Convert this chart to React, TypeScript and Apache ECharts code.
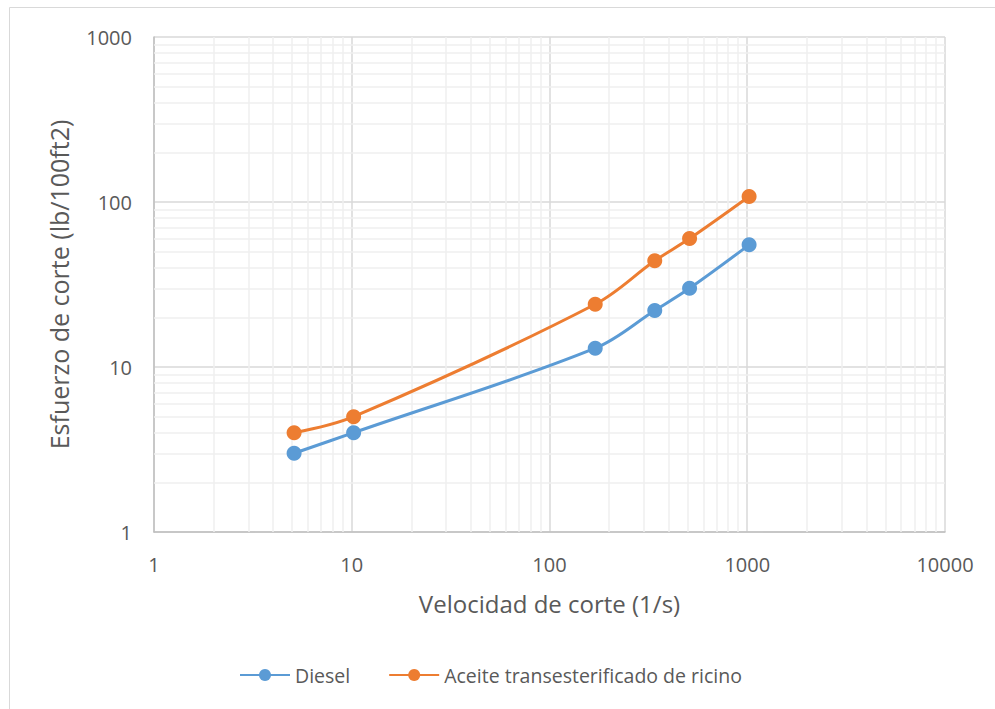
import React, { useEffect, useRef } from "react";
import * as echarts from "echarts";

const shearRate = [5.11, 10.22, 170.3, 340.6, 510.9, 1021.8];
const diesel = [3, 4, 13, 22, 30, 55];
const aceite = [4, 5, 24, 44, 60, 108];
const seriesNames = ["Diesel", "Aceite transesterificado de ricino"];
const xDecades = [1, 10, 100, 1000];
const yDecades = [1, 10, 100];
const minorSteps = [2, 3, 4, 5, 6, 7, 8, 9];

export default function App() {
  const ref = useRef<HTMLDivElement>(null);
  useEffect(() => {
    if (!ref.current) return;
    const chart = echarts.init(ref.current, undefined, { renderer: "svg" });
    const font = "'Open Sans', 'Liberation Sans', sans-serif";
    const minorX: any[] = [];
    xDecades.forEach((d) => minorSteps.forEach((k) => minorX.push({ xAxis: d * k })));
    const minorY: any[] = [];
    yDecades.forEach((d) => minorSteps.forEach((k) => minorY.push({ yAxis: d * k })));
    const pairs = (ys: number[]) => shearRate.map((x, i) => [x, ys[i]]);
    const fmt = (v: number) => String(Math.round(v));
    chart.setOption({
      animation: false,
      backgroundColor: "#ffffff",
      graphic: [
        {
          type: "rect",
          shape: { x: 9.5, y: 7.5, width: 1100, height: 800 },
          style: { fill: "none", stroke: "#d9d9d9", lineWidth: 1 },
          silent: true,
        },
      ],
      grid: { left: 154, right: 50, top: 37, bottom: 177 },
      legend: {
        top: 660,
        left: 234,
        itemWidth: 50,
        itemHeight: 15,
        itemGap: 38,
        textStyle: { fontFamily: font, fontSize: 19.5, color: "#595959" },
        data: seriesNames,
      },
      xAxis: {
        type: "log",
        logBase: 10,
        min: 1,
        max: 10000,
        name: "Velocidad de corte (1/s)",
        nameLocation: "middle",
        nameGap: 59,
        nameTextStyle: { fontFamily: font, fontSize: 24, color: "#595959" },
        axisLine: { show: true, lineStyle: { color: "#bfbfbf", width: 1.5 } },
        axisTick: { show: false },
        axisLabel: { fontFamily: font, fontSize: 20, color: "#595959", margin: 22, formatter: fmt },
        splitLine: { show: true, lineStyle: { color: "#d9d9d9", width: 1.5 } },
      },
      yAxis: {
        type: "log",
        logBase: 10,
        min: 1,
        max: 1000,
        name: "Esfuerzo de corte (lb/100ft2)",
        nameLocation: "middle",
        nameGap: 83,
        nameTextStyle: { fontFamily: font, fontSize: 25, color: "#595959" },
        axisLine: { show: true, lineStyle: { color: "#bfbfbf", width: 1.5 } },
        axisTick: { show: false },
        axisLabel: { fontFamily: font, fontSize: 20, color: "#595959", margin: 22, formatter: fmt },
        splitLine: { show: true, lineStyle: { color: "#d9d9d9", width: 1.5 } },
      },
      series: [
        {
          type: "line",
          name: "minor",
          data: [],
          z: 1,
          silent: true,
          markLine: {
            silent: true,
            z: 1,
            symbol: "none",
            label: { show: false },
            lineStyle: { color: "#efefef", width: 1.5, type: "solid" },
            emphasis: { disabled: true },
            data: [...minorX, ...minorY],
          },
        },
        {
          type: "line",
          name: seriesNames[0],
          data: pairs(diesel),
          smooth: 0.35,
          symbol: "circle",
          symbolSize: 15,
          z: 3,
          itemStyle: { color: "#5b9bd5" },
          lineStyle: { color: "#5b9bd5", width: 3 },
        },
        {
          type: "line",
          name: seriesNames[1],
          data: pairs(aceite),
          smooth: 0.35,
          symbol: "circle",
          symbolSize: 15,
          z: 3,
          itemStyle: { color: "#ed7d31" },
          lineStyle: { color: "#ed7d31", width: 3 },
        },
      ],
    });
    return () => chart.dispose();
  }, []);
  return (
    <div
      ref={ref}
      style={{ position: "absolute", left: 0, top: 0, width: 995, height: 709 }}
    />
  );
}
